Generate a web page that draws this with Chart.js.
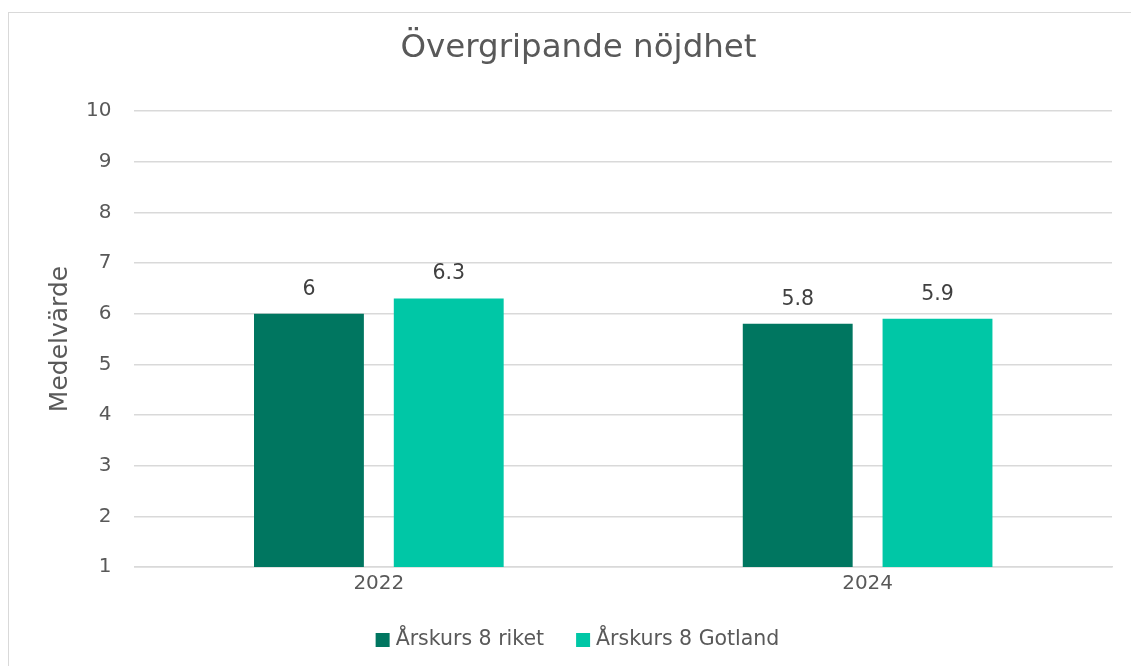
<!DOCTYPE html>
<html>
<head>
<meta charset="utf-8">
<script src="https://cdn.jsdelivr.net/npm/chart.js@4.4.1/dist/chart.umd.min.js"></script>
<style>
  html, body { margin: 0; padding: 0; background: #fff; }
  #wrap { position: relative; width: 1131px; height: 666px; overflow: hidden; }
  #frame { position: absolute; left: 8px; top: 12px; width: 1140px; height: 700px; border: 1px solid #d9d9d9; box-sizing: border-box; }
  #c { position: absolute; left: 0; top: 0; }
</style>
</head>
<body>
<div id="wrap">
  <div id="frame"></div>
  <canvas id="c" width="1131" height="666"></canvas>
</div>
<script>
const chartTitle = "Övergripande nöjdhet";
const yAxisTitle = "Medelvärde";
const categories = ["2022", "2024"];
const seriesNames = ["Årskurs 8 riket", "Årskurs 8 Gotland"];
const rikeValues = [6, 5.8];
const gotlandValues = [6.3, 5.9];
const seriesColors = ["#007660", "#00C7A6"];
const yMin = 1, yMax = 10, yStep = 1;

const FONT = "'DejaVu Sans', Verdana, sans-serif";
const TEXT = "#595959";

const valueLabels = {
  id: 'valueLabels',
  afterDatasetsDraw(chart) {
    const ctx = chart.ctx;
    ctx.save();
    ctx.font = "20.5px " + FONT;
    ctx.fillStyle = "#404040";
    ctx.textAlign = "center";
    ctx.textBaseline = "alphabetic";
    chart.data.datasets.forEach((ds, i) => {
      chart.getDatasetMeta(i).data.forEach((bar, j) => {
        ctx.fillText(String(ds.data[j]), bar.x, bar.y - 19);
      });
    });
    ctx.restore();
  }
};

const customLegend = {
  id: 'customLegend',
  afterDraw(chart) {
    const ctx = chart.ctx;
    const box = 14, gap = 6, itemGap = 32;
    const cy = 640;
    ctx.save();
    ctx.font = "20.5px " + FONT;
    ctx.textBaseline = "middle";
    ctx.textAlign = "left";
    const items = chart.data.datasets.map(ds => ({ label: ds.label, color: ds.backgroundColor, w: ctx.measureText(ds.label).width }));
    const total = items.reduce((s, it) => s + box + gap + it.w, 0) + itemGap * (items.length - 1);
    let x = chart.width / 2 + 12 - total / 2;
    items.forEach(it => {
      ctx.fillStyle = it.color;
      ctx.fillRect(x, cy - box / 2, box, box);
      ctx.fillStyle = TEXT;
      ctx.fillText(it.label, x + box + gap, cy);
      x += box + gap + it.w + itemGap;
    });
    ctx.restore();
  }
};

new Chart(document.getElementById('c'), {
  type: 'bar',
  data: {
    labels: categories,
    datasets: [
      { label: seriesNames[0], data: rikeValues, backgroundColor: seriesColors[0], barPercentage: 0.786, categoryPercentage: 0.572 },
      { label: seriesNames[1], data: gotlandValues, backgroundColor: seriesColors[1], barPercentage: 0.786, categoryPercentage: 0.572 }
    ]
  },
  options: {
    responsive: false,
    animation: false,
    devicePixelRatio: 1,
    layout: { padding: { left: 45, right: 19, top: 29, bottom: 73 } },
    plugins: {
      title: { display: true, text: chartTitle, color: TEXT, font: { family: FONT, size: 32.5, weight: 'normal' }, padding: { top: 0, bottom: 43 } },
      legend: { display: false },
      tooltip: { enabled: false }
    },
    scales: {
      x: {
        grid: { display: false },
        border: { display: true, color: '#d9d9d9', width: 1.5 },
        ticks: { color: TEXT, font: { family: FONT, size: 20 }, padding: -3 }
      },
      y: {
        min: yMin, max: yMax,
        ticks: { stepSize: yStep, color: TEXT, font: { family: FONT, size: 20 }, padding: 23 },
        grid: { color: '#d9d9d9', drawTicks: false, lineWidth: 1.5 },
        border: { display: false },
        title: { display: true, text: yAxisTitle, color: TEXT, font: { family: FONT, size: 25 }, padding: { top: 0, bottom: -12 } }
      }
    }
  },
  plugins: [valueLabels, customLegend]
});
</script>
</body>
</html>
